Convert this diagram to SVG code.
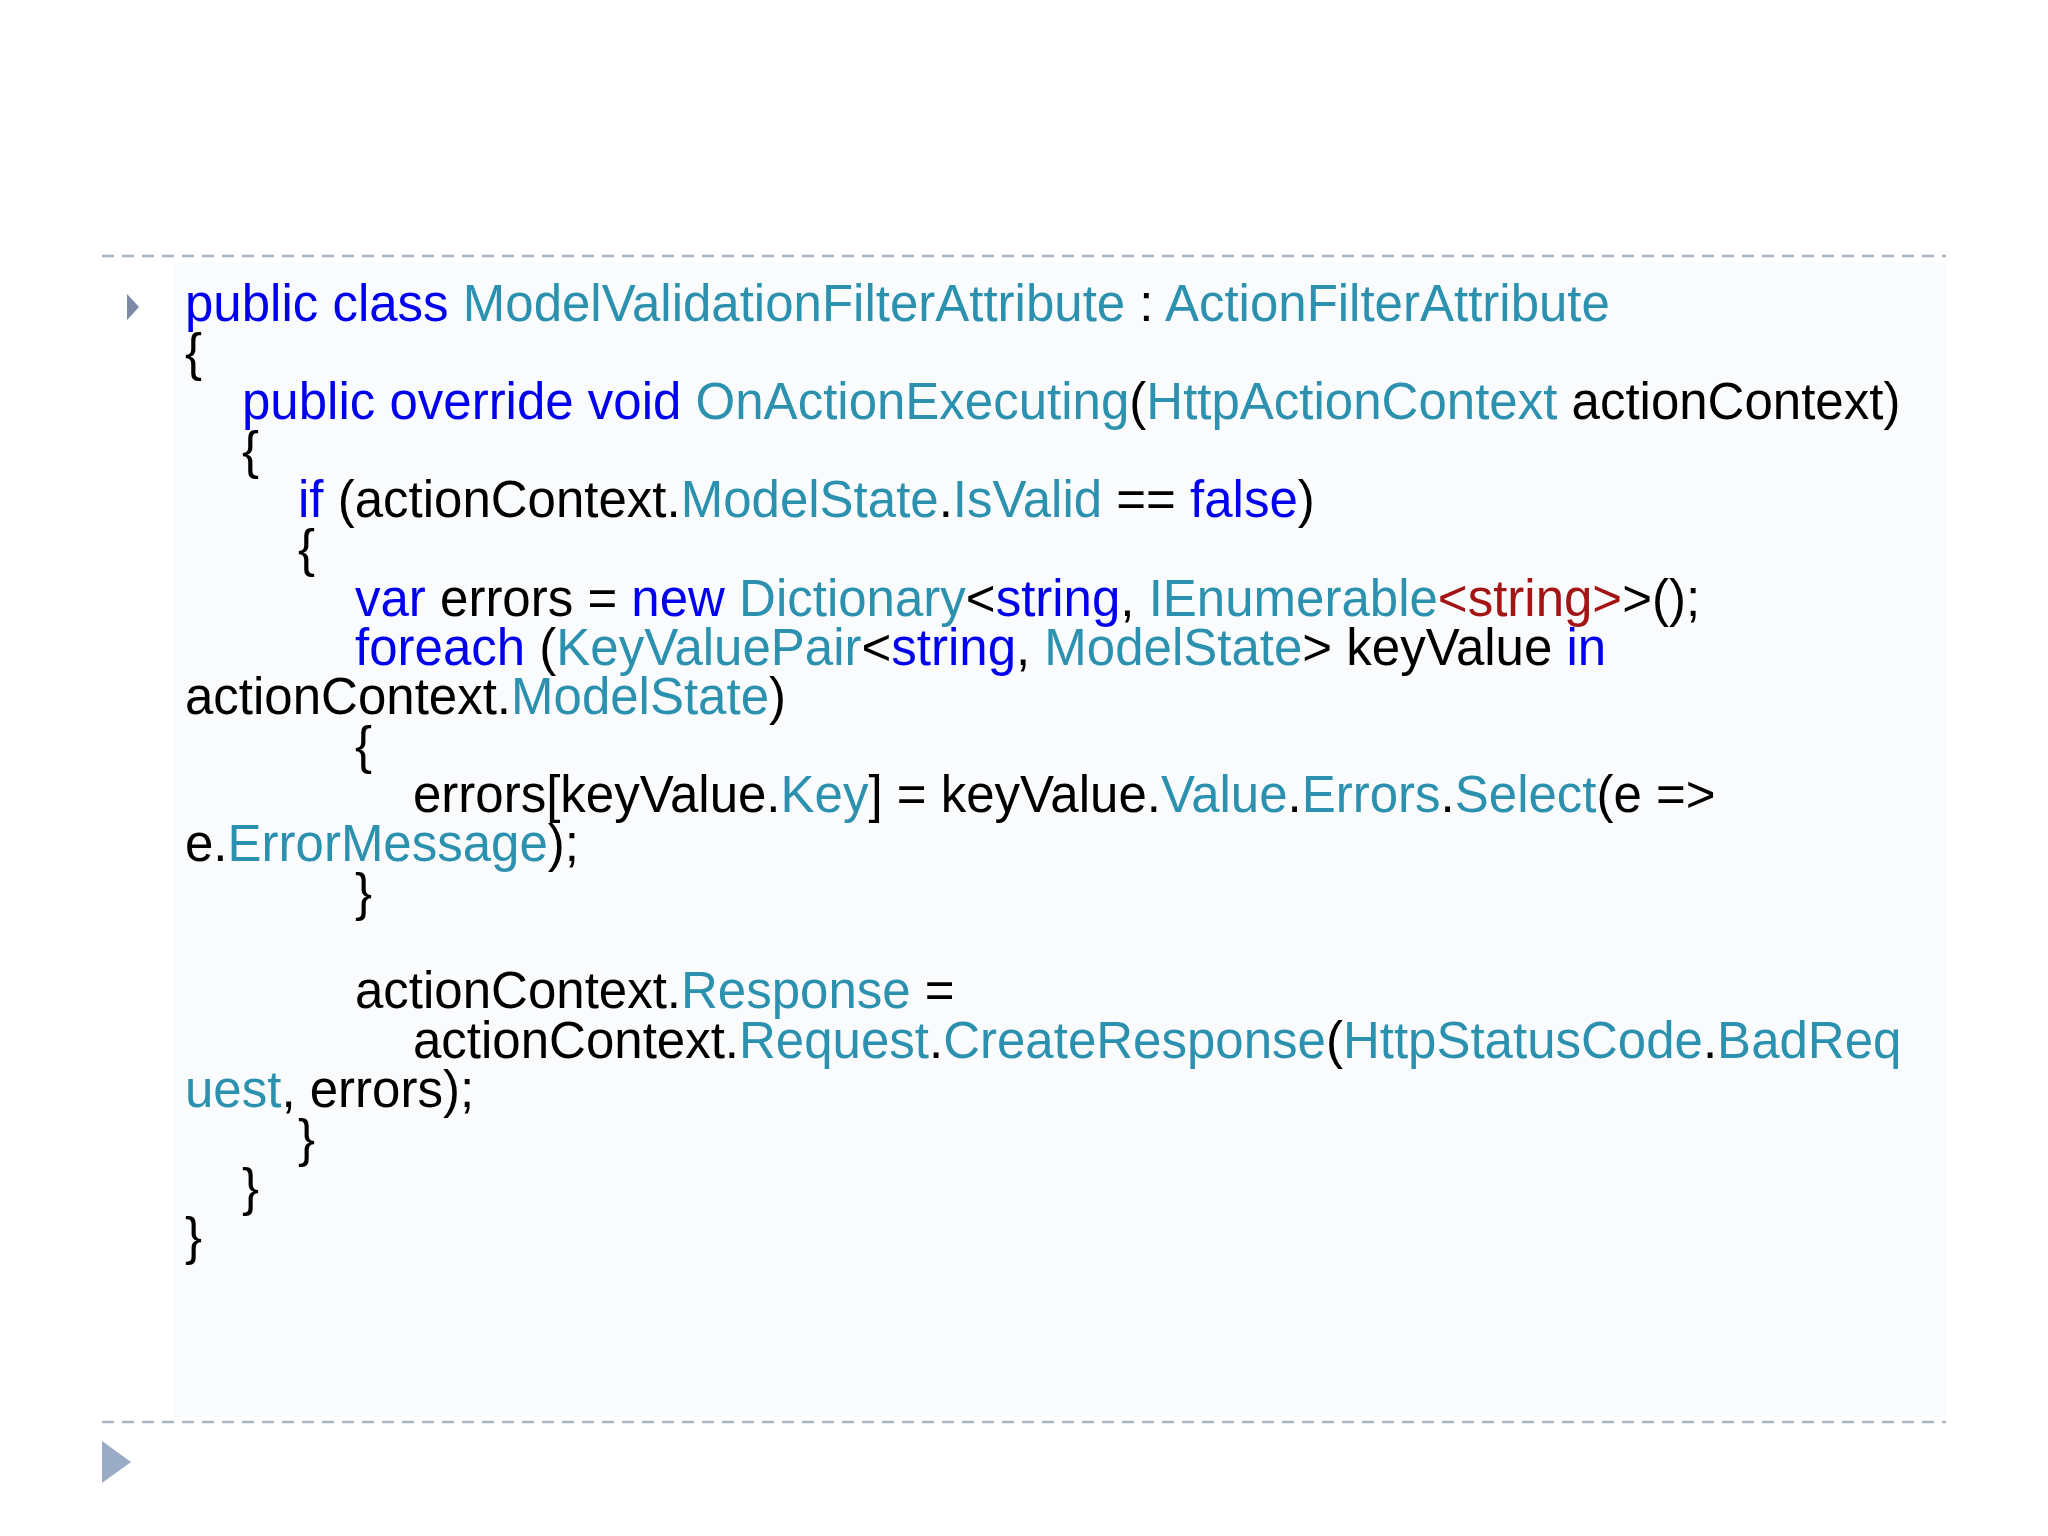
<svg xmlns="http://www.w3.org/2000/svg" width="2048" height="1536" viewBox="0 0 2048 1536">
<style>
text{font-family:"Liberation Sans",Arial,sans-serif;font-size:51px;fill:#000;white-space:pre}
.k{fill:#0000ee}.t{fill:#2b91af}.r{fill:#a31515}
.d{stroke:#a8b6c6;stroke-width:2.5;stroke-dasharray:12 8}
</style>
<rect width="2048" height="1536" fill="#fff"/>
<rect x="175" y="262" width="1770" height="1155" fill="#fafbfd"/>
<line class="d" x1="102" y1="256" x2="1946" y2="256"/>
<line class="d" x1="102" y1="1422" x2="1946" y2="1422"/>
<polygon points="127,294 139,307 127,320" fill="#7c8aa8"/>
<polygon points="102,1441 131,1462 102,1483" fill="#9aabc6"/>
<g id="code">
<text x="185" y="321"><tspan class="k">public class </tspan><tspan class="t">ModelValidationFilterAttribute</tspan> : <tspan class="t">ActionFilterAttribute</tspan></text>
<text x="185" y="370">{</text>
<text x="242" y="419"><tspan class="k">public override void </tspan><tspan class="t">OnActionExecuting</tspan>(<tspan class="t">HttpActionContext</tspan> actionContext)</text>
<text x="242" y="468">{</text>
<text x="298" y="517"><tspan class="k">if</tspan> (actionContext.<tspan class="t">ModelState</tspan>.<tspan class="t">IsValid</tspan> == <tspan class="k">false</tspan>)</text>
<text x="298" y="566">{</text>
<text x="355" y="616"><tspan class="k">var</tspan> errors = <tspan class="k">new</tspan> <tspan class="t">Dictionary</tspan>&lt;<tspan class="k">string</tspan>, <tspan class="t">IEnumerable</tspan><tspan class="r">&lt;string&gt;</tspan>&gt;();</text>
<text x="355" y="665"><tspan class="k">foreach</tspan> (<tspan class="t">KeyValuePair</tspan>&lt;<tspan class="k">string</tspan>, <tspan class="t">ModelState</tspan>&gt; keyValue <tspan class="k">in</tspan></text>
<text x="185" y="714">actionContext.<tspan class="t">ModelState</tspan>)</text>
<text x="355" y="763">{</text>
<text x="413" y="812">errors[keyValue.<tspan class="t">Key</tspan>] = keyValue.<tspan class="t">Value</tspan>.<tspan class="t">Errors</tspan>.<tspan class="t">Select</tspan>(e =&gt;</text>
<text x="185" y="861">e.<tspan class="t">ErrorMessage</tspan>);</text>
<text x="355" y="910">}</text>
<text x="355" y="1008">actionContext.<tspan class="t">Response</tspan> =</text>
<text x="413" y="1058">actionContext.<tspan class="t">Request</tspan>.<tspan class="t">CreateResponse</tspan>(<tspan class="t">HttpStatusCode</tspan>.<tspan class="t">BadReq</tspan></text>
<text x="185" y="1107"><tspan class="t">uest</tspan>, errors);</text>
<text x="298" y="1156">}</text>
<text x="242" y="1205">}</text>
<text x="185" y="1254">}</text>
</g>
</svg>
